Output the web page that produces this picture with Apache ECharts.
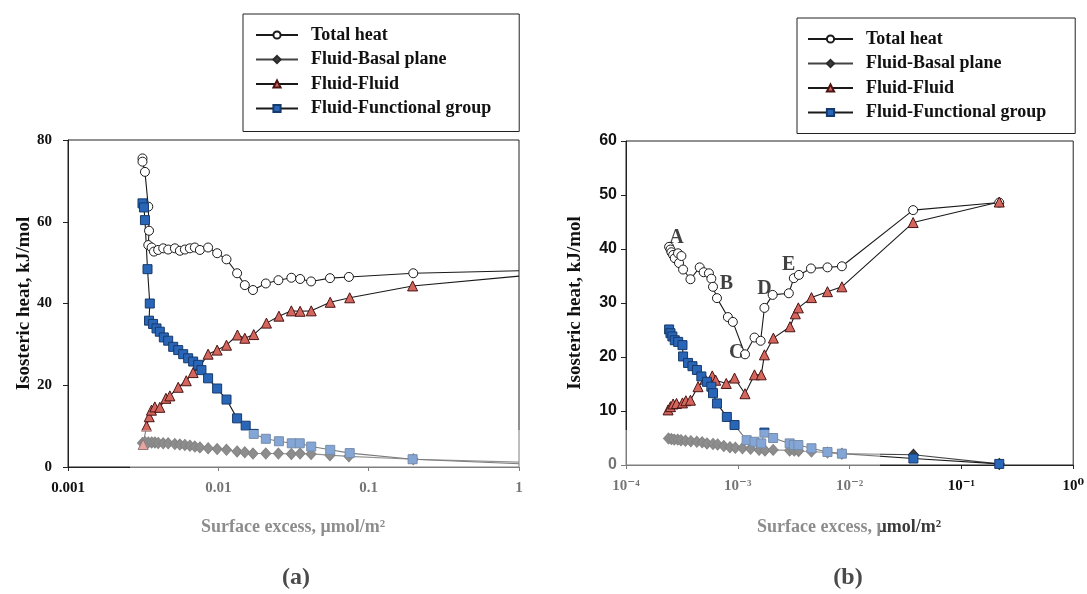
<!DOCTYPE html>
<html>
<head>
<meta charset="utf-8">
<script src="https://cdn.jsdelivr.net/npm/echarts@6/dist/echarts.min.js"></script>
<style>
  html, body { margin: 0; padding: 0; background: #fff; }
  #chart { width: 1087px; height: 594px; }
</style>
</head>
<body>
<div id="chart"></div>
<script>
// ---- Panel (a): isosteric heat vs surface excess ----
const totalA = [[0.00313,75.5],[0.00313,74.7],[0.00325,72.2],[0.00342,63.7],[0.00346,57.8],[0.00342,54.3],[0.00360,53.7],[0.00373,52.7],[0.00398,53.1],[0.00430,53.5],[0.00464,53.2],[0.00514,53.5],[0.00555,52.9],[0.00599,53.2],[0.00647,53.5],[0.00698,53.7],[0.00754,53.1],[0.00855,53.7],[0.00982,52.3],[0.01133,50.8],[0.01333,47.4],[0.0150,44.5],[0.0170,43.3],[0.0207,44.9],[0.0251,45.7],[0.0306,46.3],[0.0350,46.0],[0.0414,45.4],[0.0553,46.2],[0.0739,46.5],[0.198,47.4],[1.0,48.0]];
const basalA = [[0.00313,5.9],[0.00325,6.1],[0.00342,6.0],[0.00360,6.0],[0.00378,6.0],[0.00398,5.9],[0.00430,5.8],[0.00464,5.8],[0.00514,5.6],[0.00555,5.5],[0.00599,5.4],[0.00647,5.2],[0.00698,5.0],[0.00754,4.8],[0.00855,4.6],[0.00982,4.4],[0.01133,4.2],[0.01333,3.8],[0.0150,3.6],[0.0170,3.3],[0.0207,3.3],[0.0251,3.3],[0.0306,3.2],[0.0350,3.3],[0.0414,3.2],[0.0553,2.9],[0.0739,2.6],[0.198,1.9],[1.0,1.2]];
const fluidA = [[0.00316,5.5],[0.00333,10.0],[0.00347,12.3],[0.00359,13.9],[0.00378,14.7],[0.00408,14.6],[0.00448,16.8],[0.00476,17.4],[0.00541,19.5],[0.00612,21.1],[0.00680,23.1],[0.00760,24.8],[0.00855,27.6],[0.00982,28.6],[0.01133,29.8],[0.0134,32.3],[0.0150,31.5],[0.0172,32.4],[0.0209,35.2],[0.0253,36.9],[0.0306,38.2],[0.0350,38.1],[0.0415,38.2],[0.0555,40.3],[0.0748,41.4],[0.196,44.3],[1.0,46.7]];
const groupA = [[0.00313,64.5],[0.00320,63.5],[0.00325,60.4],[0.00338,48.4],[0.00350,40.0],[0.00346,35.8],[0.00368,35.0],[0.00388,33.9],[0.00408,33.1],[0.00434,31.7],[0.00464,30.9],[0.00501,29.4],[0.00541,28.6],[0.00584,27.6],[0.00630,26.6],[0.00680,25.8],[0.00734,25.0],[0.00772,23.7],[0.00855,21.7],[0.00982,19.2],[0.01133,16.5],[0.01333,11.9],[0.0152,10.1],[0.0172,8.1],[0.0207,6.9],[0.0253,6.3],[0.0308,5.8],[0.0348,5.8],[0.0415,5.0],[0.0555,4.2],[0.0748,3.4],[0.196,1.9],[1.0,0.8]];

// ---- Panel (b) ----
const totalB = [[2.43e-4,40.4],[2.50e-4,39.9],[2.55e-4,39.4],[2.64e-4,38.9],[2.73e-4,38.3],[2.92e-4,39.2],[2.98e-4,37.4],[3.13e-4,38.7],[3.24e-4,36.2],[3.77e-4,34.4],[4.56e-4,36.6],[4.95e-4,35.7],[5.52e-4,35.5],[5.80e-4,34.5],[6.00e-4,33.0],[6.51e-4,30.9],[8.15e-4,27.4],[9.03e-4,26.5],[1.16e-3,20.5],[1.41e-3,23.6],[1.60e-3,23.0],[1.73e-3,29.1],[2.05e-3,31.5],[2.86e-3,31.8],[3.17e-3,34.6],[3.52e-3,35.2],[4.51e-3,36.4],[6.34e-3,36.6],[8.53e-3,36.8],[0.0370,47.2],[0.218,48.6]];
const basalB = [[2.40e-4,4.9],[2.55e-4,4.8],[2.70e-4,4.7],[2.90e-4,4.7],[3.10e-4,4.6],[3.40e-4,4.5],[3.80e-4,4.4],[4.30e-4,4.3],[4.80e-4,4.2],[5.30e-4,4.0],[6.00e-4,3.9],[6.60e-4,3.8],[7.50e-4,3.5],[8.50e-4,3.3],[9.50e-4,3.2],[1.10e-3,3.1],[1.30e-3,3.0],[1.55e-3,2.8],[1.75e-3,2.7],[2.07e-3,2.8],[2.91e-3,2.7],[3.20e-3,2.7],[3.50e-3,2.6],[4.56e-3,2.5],[6.34e-3,2.3],[8.53e-3,2.1],[0.0372,1.9],[0.218,0.2]];
const fluidB = [[2.38e-4,10.2],[2.50e-4,10.8],[2.64e-4,11.3],[2.83e-4,11.4],[3.20e-4,11.5],[3.43e-4,11.9],[3.77e-4,12.0],[4.41e-4,14.5],[5.10e-4,15.9],[5.91e-4,16.5],[6.34e-4,15.7],[7.88e-4,15.1],[9.35e-4,16.1],[1.16e-3,13.2],[1.41e-3,16.7],[1.62e-3,16.7],[1.73e-3,20.4],[2.08e-3,23.5],[2.93e-3,25.6],[3.27e-3,28.0],[3.48e-3,29.1],[4.56e-3,31.0],[6.34e-3,32.1],[8.53e-3,33.0],[0.0370,44.9],[0.218,48.7]];
const groupB = [[2.43e-4,25.1],[2.50e-4,24.4],[2.60e-4,23.8],[2.73e-4,23.1],[2.93e-4,22.8],[3.20e-4,22.2],[3.24e-4,20.1],[3.59e-4,18.9],[3.93e-4,18.3],[4.31e-4,17.6],[4.72e-4,16.4],[5.30e-4,15.4],[5.80e-4,14.5],[6.00e-4,13.3],[6.51e-4,11.4],[7.98e-4,8.9],[9.35e-4,7.4],[1.20e-3,4.6],[1.41e-3,4.3],[1.62e-3,4.0],[1.73e-3,6.0],[2.07e-3,5.0],[2.91e-3,4.0],[3.17e-3,3.7],[3.48e-3,3.7],[4.56e-3,3.1],[6.34e-3,2.4],[8.53e-3,2.1],[0.0372,1.2],[0.218,0.2]];

// Region labels on the total-heat curve of panel (b)
const regionNames = ['A', 'B', 'C', 'D', 'E'];
const regionPos = [[2.83e-4,42.0],[7.9e-4,33.6],[9.7e-4,20.7],[1.73e-3,32.7],[2.85e-3,37.0]];

const seriesNames = ['Total heat', 'Fluid-Basal plane', 'Fluid-Fluid', 'Fluid-Functional group'];
const xTicksA = ['0.001', '0.01', '0.1', '1'];
const xTicksB = ['10⁻⁴', '10⁻³', '10⁻²', '10⁻¹', '10⁰'];
const yTicksA = ['0', '20', '40', '60', '80'];
const yTicksB = ['0', '10', '20', '30', '40', '50', '60'];
const xTitle = 'Surface excess, μmol/m²';
const yTitle = 'Isosteric heat, kJ/mol';
const panelTags = ['(a)', '(b)'];

const SERIF = '"Liberation Serif", "DejaVu Serif", serif';
const SANS = '"Liberation Sans", Arial, sans-serif';

const styles = [
  { symbol: 'circle', size: 9, fill: '#ffffff', border: '#1a1a1a', line: '#1a1a1a' },
  { symbol: 'diamond', size: [10, 11], fill: '#3c3c3c', border: '#2a2a2a', line: '#444444' },
  { symbol: 'triangle', size: 10, fill: '#d4665e', border: '#4a1414', line: '#1a1a1a' },
  { symbol: 'rect', size: 9, fill: '#2a66b8', border: '#163a6c', line: '#1a1a1a' }
];

// the last point at x = 1 only carries the line to the frame edge
function withEnd(data) {
  return data.map(p => p[0] >= 1 ? { value: p, symbol: 'none' } : p);
}

function makeSeries(idx, data, axisIdx) {
  const s = styles[idx];
  return {
    name: seriesNames[idx],
    type: 'line',
    xAxisIndex: axisIdx, yAxisIndex: axisIdx,
    data: withEnd(data),
    symbol: s.symbol, symbolSize: s.size,
    showAllSymbol: true,
    clip: true,
    itemStyle: { color: s.fill, borderColor: s.border, borderWidth: 1 },
    lineStyle: { color: s.line, width: 1.1 },
    emphasis: { disabled: true },
    animation: false
  };
}

function tickFormatter(labels, minExp) {
  return v => labels[Math.round(Math.log10(v)) - minExp] || '';
}

function xAxisCfg(grid, minV, maxV, labels, minExp) {
  return {
    gridIndex: grid, type: 'log', logBase: 10, min: minV, max: maxV,
    axisLine: { lineStyle: { color: '#222', width: 1 } },
    axisTick: { show: true, length: 4, lineStyle: { color: '#222' } },
    splitLine: { show: false }, minorTick: { show: false },
    axisLabel: { formatter: tickFormatter(labels, minExp), margin: 14,
      fontFamily: SERIF, fontWeight: 'bold', fontSize: 15, color: '#111' }
  };
}

function yAxisCfg(grid, maxV, step, labels, font, margin, fs) {
  return {
    gridIndex: grid, type: 'value', min: 0, max: maxV, interval: step,
    axisLine: { show: true, lineStyle: { color: '#222', width: 1 } },
    axisTick: { show: true, length: 5, lineStyle: { color: '#222' } },
    splitLine: { show: false },
    axisLabel: { formatter: v => labels[Math.round(v / step)], margin: margin,
      fontFamily: font, fontWeight: 'bold', fontSize: fs, color: '#111' },
    name: yTitle, nameLocation: 'middle', nameRotate: 90,
    nameTextStyle: { fontFamily: SERIF, fontWeight: 'bold', fontSize: 19, color: '#111' }
  };
}

const legendText = { fontFamily: SERIF, fontWeight: 'bold', fontSize: 18, color: '#111', padding: [0, 0, 0, 8] };

const chart = echarts.init(document.getElementById('chart'), null, { renderer: 'canvas' });

const yA = yAxisCfg(0, 80, 20, yTicksA, SERIF, 16, 15); yA.nameGap = 34;
const yB = yAxisCfg(1, 60, 10, yTicksB, SANS, 9, 16); yB.nameGap = 41;

const option = {
  backgroundColor: '#ffffff',
  animation: false,
  grid: [
    { left: 68, top: 140, width: 451, height: 327, show: true, borderColor: '#222', borderWidth: 1 },
    { left: 626, top: 141, width: 449, height: 324, show: true, borderColor: '#222', borderWidth: 1 }
  ],
  xAxis: [xAxisCfg(0, 0.001, 1, xTicksA, -3), xAxisCfg(1, 1e-4, 1, xTicksB, -4)],
  yAxis: [yA, yB],
  legend: [
    { data: seriesNames, orient: 'vertical', left: 243, top: 14, itemWidth: 42, itemHeight: 9, itemGap: 6.5,
      padding: [12, 28, 14, 12], borderColor: '#222', borderWidth: 1, textStyle: legendText,
      selectedMode: false },
    { data: seriesNames, orient: 'vertical', left: 797, top: 18, itemWidth: 45, itemHeight: 9, itemGap: 6.5,
      padding: [12, 29, 12, 10], borderColor: '#222', borderWidth: 1, textStyle: legendText,
      selectedMode: false }
  ],
  series: [
    makeSeries(0, totalA, 0), makeSeries(1, basalA, 0), makeSeries(2, fluidA, 0), makeSeries(3, groupA, 0),
    makeSeries(0, totalB, 1), makeSeries(1, basalB, 1), makeSeries(2, fluidB, 1), makeSeries(3, groupB, 1),
    {
      type: 'scatter', xAxisIndex: 1, yAxisIndex: 1, symbolSize: 0,
      data: regionPos.map((p, i) => ({ value: p, name: regionNames[i] })),
      label: { show: true, position: 'inside', formatter: p => p.name,
        fontFamily: SERIF, fontWeight: 'bold', fontSize: 20, color: '#111' },
      emphasis: { disabled: true }, silent: true, z: 10
    }
  ],
  graphic: [
    // faint stamp that washes out the lower band of the page
    { type: 'rect', shape: { x: 130, y: 430, width: 750, height: 164 },
      style: { fill: 'rgba(255,255,255,0.42)' }, z: 100, silent: true },
    { type: 'text', x: 293, y: 527, z: 90,
      style: { text: xTitle, font: 'bold 18px ' + SERIF, fill: '#3a3a3a', textAlign: 'center', textVerticalAlign: 'middle' } },
    { type: 'text', x: 849, y: 527, z: 90,
      style: { text: xTitle, font: 'bold 18px ' + SERIF, fill: '#3a3a3a', textAlign: 'center', textVerticalAlign: 'middle' } },
    { type: 'text', x: 296, y: 578, z: 110,
      style: { text: panelTags[0], font: 'bold 24px ' + SERIF, fill: '#4a4a4a', textAlign: 'center', textVerticalAlign: 'middle' } },
    { type: 'text', x: 848, y: 578, z: 110,
      style: { text: panelTags[1], font: 'bold 24px ' + SERIF, fill: '#4a4a4a', textAlign: 'center', textVerticalAlign: 'middle' } }
  ]
};

chart.setOption(option);
</script>
</body>
</html>
